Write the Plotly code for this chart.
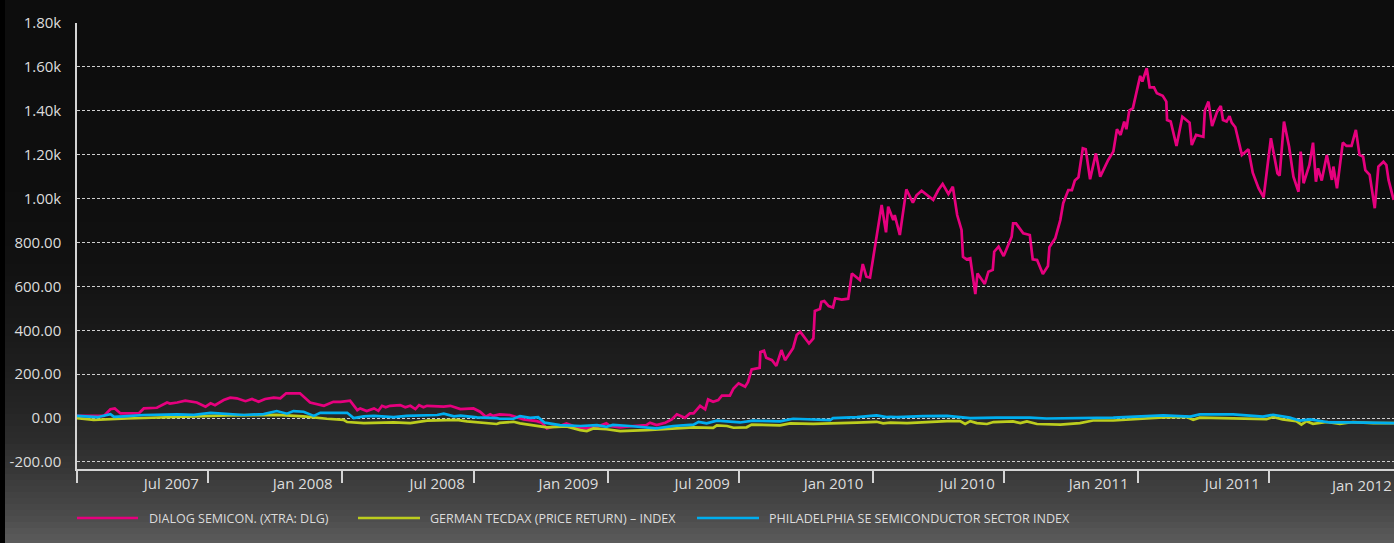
import numpy as np
import pandas as pd
import plotly.graph_objects as go

# performance relative to start, in %, weekly closes
BASE_DATE = "2007-01-01"
X_END = "2011-12-19 12:00"

SERIES_NAMES = [
    "DIALOG SEMICON. (XTRA: DLG)",
    "GERMAN TECDAX (PRICE RETURN) – INDEX",
    "PHILADELPHIA SE SEMICONDUCTOR SECTOR INDEX",
]
SERIES_COLORS = ["#e6007e", "#bccd1e", "#00aeef"]

# days since BASE_DATE
DLG_DAYS = [0, 37, 46, 52, 60, 85, 92, 110, 124, 128, 138, 149, 165, 177, 184, 190, 202, 211,
            220, 232, 241, 250, 259, 271, 280, 288, 307, 317, 321, 340, 353, 363, 376, 386, 390,
            399, 409, 415, 420, 425, 431, 445, 452, 459, 466, 471, 477, 482, 505, 514, 528, 546,
            551, 555, 563, 569, 573, 582, 596, 605, 615, 633, 640, 647, 654, 665, 674, 688, 702,
            716, 729, 734, 748, 766, 784, 789, 798, 810, 819, 826, 833, 837, 844, 849, 858, 865,
            869, 876, 883, 888, 899, 904, 911, 920, 924, 929, 940, 941, 946, 949, 957, 963, 970,
            975, 986, 991, 996, 1002, 1008, 1014, 1016, 1023, 1025, 1029, 1035, 1041, 1044, 1053,
            1062, 1067, 1078, 1082, 1087, 1092, 1097, 1101, 1108, 1114, 1117, 1124, 1126, 1133,
            1142, 1151, 1156, 1163, 1179, 1186, 1192, 1200, 1206, 1212, 1218, 1220, 1225, 1230,
            1237, 1240, 1250, 1255, 1261, 1263, 1269, 1276, 1287, 1289, 1293, 1303, 1312, 1316,
            1322, 1330, 1337, 1339, 1347, 1354, 1358, 1365, 1370, 1374, 1379, 1385, 1389, 1395,
            1403, 1409, 1420, 1427, 1432, 1437, 1442, 1445, 1449, 1454, 1464, 1467, 1473, 1477,
            1483, 1487, 1495, 1500, 1501, 1506, 1514, 1522, 1532, 1535, 1541, 1551, 1553, 1558,
            1563, 1570, 1575, 1578, 1583, 1587, 1590, 1595, 1604, 1613, 1619, 1627, 1634, 1644,
            1647, 1653, 1656, 1662, 1669, 1675, 1682, 1685, 1689, 1697, 1702, 1706, 1709, 1714,
            1721, 1728, 1730, 1735, 1743, 1748, 1755, 1761, 1766, 1771, 1774, 1780, 1787, 1792,
            1799, 1803, 1806, 1813]
DLG_VALUES = [10, 10, 40, 44, 21, 21, 44, 47, 71, 66, 71, 79, 71, 52, 67, 59, 82, 93,
              90, 77, 87, 74, 87, 93, 90, 113, 113, 82, 71, 56, 74, 74, 79, 36, 44,
              32, 44, 33, 56, 49, 56, 59, 49, 56, 41, 59, 49, 56, 52, 56, 41, 44,
              36, 29, 6, 17, 10, 17, 14, 3, -6, -14, -21, -47, -40, -36, -24, -42, -47,
              -40, -24, -36, -42, -36, -32, -21, -32, -21, -6, 17, 6, 1, 21, 21, 56, 40,
              85, 74, 82, 102, 102, 135, 158, 143, 165, 222, 229, 301, 307, 275, 264, 238, 310,
              264, 318, 378, 393, 368, 340, 363, 488, 497, 530, 533, 510, 504, 546, 540,
              544, 659, 629, 702, 644, 640, 747, 811, 971, 846, 963, 902, 925, 834,
              1042, 981, 1015, 1036, 994, 1039, 1067, 1021, 1054, 925, 857, 735, 723, 728,
              565, 659, 611, 667, 675, 758, 781, 738, 826, 887, 887, 842, 834, 723,
              720, 656, 693, 778, 819, 902, 979, 1039, 1039, 1082, 1097, 1229, 1225, 1088,
              1206, 1100, 1176, 1214, 1316, 1290, 1351, 1316, 1401, 1412, 1559, 1533, 1594, 1507,
              1507, 1480, 1468, 1442, 1358, 1351, 1240, 1373, 1346, 1244, 1290, 1282, 1401, 1442,
              1331, 1396, 1422, 1358, 1351, 1376, 1346, 1325, 1199, 1225, 1118, 1047, 1006, 1275,
              1221, 1115, 1105, 1351, 1237, 1100, 1031, 1214, 1070, 1153, 1255, 1077, 1138, 1082,
              1199, 1085, 1146, 1047, 1255, 1240, 1240, 1313, 1199, 1191, 1130, 1108, 956, 1146,
              1168, 1153, 1085, 994]

TECDAX_DAYS = [0, 23, 69, 115, 184, 207, 275, 312, 344, 367, 372, 395, 436, 459, 482, 523, 537,
               578, 582, 601, 610, 647, 674, 693, 702, 711, 729, 748, 784, 830, 849, 876, 881,
               895, 904, 922, 929, 968, 982, 1014, 1051, 1074, 1101, 1110, 1120, 1143, 1198,
               1216, 1223, 1230, 1239, 1253, 1262, 1289, 1299, 1308, 1322, 1354, 1381, 1399,
               1427, 1473, 1496, 1528, 1537, 1546, 1611, 1638, 1647, 1660, 1679, 1686, 1693,
               1702, 1721, 1739, 1757, 1785, 1814]
TECDAX_VALUES = [0, -8, -2, 3, 8, 12, 15, 8, -3, -8, -18, -23, -20, -23, -12, -8, -15,
                 -27, -22, -17, -24, -42, -38, -55, -59, -47, -51, -59, -55, -47, -42, -45, -33,
                 -36, -44, -42, -30, -33, -24, -26, -24, -21, -17, -24, -21, -23, -14,
                 -14, -27, -14, -23, -27, -18, -15, -23, -15, -27, -30, -23, -11,
                 -11, -3, 3, 5, -8, 2, -3, -5, 5, -6, -14, -30, -14,
                 -26, -18, -26, -18, -23, -23]

SOX_DAYS = [0, 28, 46, 51, 64, 92, 138, 161, 184, 207, 230, 257, 275, 289, 298, 312, 326, 335,
            372, 381, 395, 409, 436, 454, 496, 505, 519, 528, 551, 578, 582, 601, 610, 624, 635,
            644, 665, 693, 716, 729, 738, 761, 798, 821, 849, 856, 867, 881, 913, 931, 968, 986,
            1009, 1037, 1041, 1074, 1101, 1115, 1120, 1129, 1165, 1198, 1216, 1230, 1266, 1312,
            1335, 1427, 1496, 1533, 1546, 1592, 1633, 1647, 1670, 1684, 1698, 1725, 1757, 1814]
SOX_VALUES = [10, 4, 18, 6, 8, 14, 17, 15, 24, 20, 14, 18, 32, 20, 32, 29, 10, 24,
              24, 0, 8, 10, 4, 10, 14, 20, 8, 11, 3, 0, -3, -3, 9, 1, 4,
              -21, -32, -36, -32, -40, -31, -36, -47, -36, -30, -17, -24, -12, -20, -12, -15, -3,
              -6, -9, 0, 4, 12, 4, 6, 4, 9, 10, 4, 0, 2, 2,
              -2, 2, 12, 7, 17, 17, 7, 15, 2, -12, -6, -20, -20, -23]

TICK_DATES = ["2007-01-01", "2007-07-01", "2008-01-01", "2008-07-01", "2009-01-01", "2009-07-01",
              "2010-01-01", "2010-07-01", "2011-01-01", "2011-07-01"]
TICK_TEXT = ["", "Jul 2007", "Jan 2008", "Jul 2008", "Jan 2009", "Jul 2009",
             "Jan 2010", "Jul 2010", "Jan 2011", "Jul 2011"]
LAST_TICK_TEXT = "Jan 2012"   # tick sits just past the right edge

Y_TICKS = [-200, 0, 200, 400, 600, 800, 1000, 1200, 1400, 1600, 1800]
Y_TEXT = ["-200.00", "0.00", "200.00", "400.00", "600.00", "800.00",
          "1.00k", "1.20k", "1.40k", "1.60k", "1.80k"]

FONT = "Open Sans"
TXT = "#dcdcdc"
AXIS = "#d4d4d4"

W, H = 1394, 543
ML, MR, MT, MB = 77, 0, 23, 74
PW, PH = W - ML - MR, H - MT - MB


def to_dates(days):
    return pd.Timestamp(BASE_DATE) + pd.to_timedelta(days, unit="D")


fig = go.Figure()
for name, color, days, vals in zip(
        SERIES_NAMES, SERIES_COLORS,
        [DLG_DAYS, TECDAX_DAYS, SOX_DAYS], [DLG_VALUES, TECDAX_VALUES, SOX_VALUES]):
    fig.add_trace(go.Scatter(
        x=to_dates(days), y=vals, mode="lines", name=name,
        line=dict(color=color, width=2.7),
        hovertemplate="%{x|%d %b %Y}: %{y:.1f}<extra></extra>",
    ))

# dark-to-grey vertical gradient behind everything, as thin bands
stops_px = [0, 180, 260, 340, 400, 440, 470, 510, 543]
stops_g = [13, 14, 17, 26, 35, 44, 55, 72, 92]
shapes = []
edges = np.arange(0, H + 6, 6)
for a, b in zip(edges[:-1], edges[1:]):
    g = int(round(np.interp((a + b) / 2, stops_px, stops_g)))
    shapes.append(dict(type="rect", xref="paper", yref="paper", layer="below",
                       x0=-ML / PW, x1=1.0, y0=(H - MB - b) / PH, y1=(H - MB - a) / PH,
                       fillcolor=f"rgb({g},{g},{g})", line_width=0))
shapes.append(dict(type="rect", xref="paper", yref="paper", layer="below",
                   x0=-ML / PW, x1=(5 - ML) / PW, y0=-MB / PH, y1=(H - MB) / PH,
                   fillcolor="#000000", line_width=0))

# legend drawn by hand: long line swatches like the original
legend_y = (H - MB - 518) / PH
legend_px = [(77, 138, 147), (358, 420, 428), (697, 759, 767)]
annotations = []
for (l0, l1, t0), name, color in zip(legend_px, SERIES_NAMES, SERIES_COLORS):
    shapes.append(dict(type="line", xref="paper", yref="paper",
                       x0=(l0 - ML) / PW, x1=(l1 - ML) / PW, y0=legend_y, y1=legend_y,
                       line=dict(color=color, width=2.7)))
    annotations.append(dict(xref="paper", yref="paper", x=(t0 - ML) / PW, y=legend_y,
                            xanchor="left", yanchor="middle", showarrow=False, text=name,
                            font=dict(family=FONT, size=12.5, color=TXT)))
annotations.append(dict(xref="paper", yref="paper", x=1.0, y=(H - MB - 485) / PH,
                        xanchor="right", yanchor="middle", showarrow=False,
                        text=LAST_TICK_TEXT, font=dict(family=FONT, size=15, color=TXT)))

fig.update_layout(
    width=W, height=H, margin=dict(l=ML, r=MR, t=MT, b=MB),
    paper_bgcolor="#0d0d0d", plot_bgcolor="rgba(0,0,0,0)",
    showlegend=False, shapes=shapes, annotations=annotations,
    font=dict(family=FONT, color=TXT),
    xaxis=dict(
        type="date", range=[BASE_DATE, X_END],
        tickmode="array", tickvals=TICK_DATES, ticktext=TICK_TEXT,
        ticks="outside", ticklen=12, tickwidth=1.5, tickcolor=AXIS,
        ticklabelposition="outside left", ticklabelshift=-8,
        tickfont=dict(size=15, color=TXT),
        showline=True, linecolor=AXIS, linewidth=1.5, showgrid=False, zeroline=False,
    ),
    yaxis=dict(
        range=[-232, 1800], tickmode="array", tickvals=Y_TICKS, ticktext=Y_TEXT,
        ticks="", ticklabelstandoff=11, tickfont=dict(size=15, color=TXT),
        showline=True, linecolor=AXIS, linewidth=1.5,
        showgrid=True, gridcolor="#cfcfcf", gridwidth=1, griddash="3px,2px",
        zeroline=False,
    ),
)

# the page's default body margin would push the chart off-screen
fig.write_html("out.html", config={"displayModeBar": False},
               post_script="document.body.style.margin='0';")
